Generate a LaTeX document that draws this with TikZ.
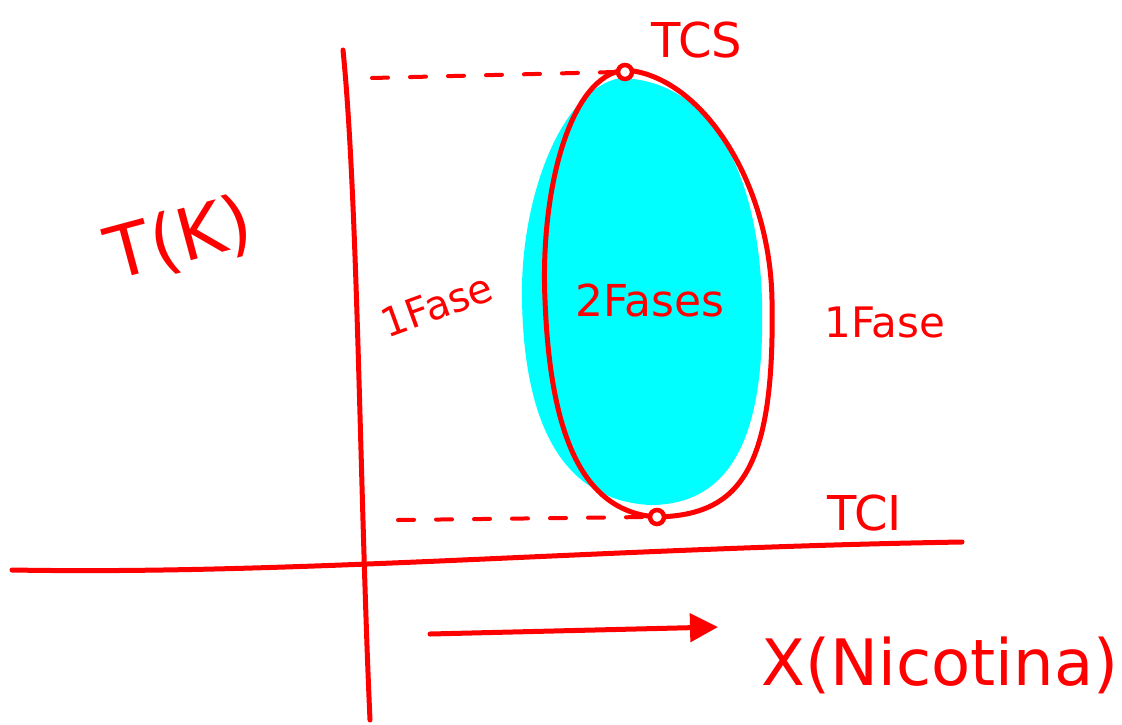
\documentclass[tikz,border=0pt]{standalone}
\usepackage{fontspec}
\setmainfont{DejaVu Sans}
\usetikzlibrary{arrows.meta}
\definecolor{pen}{RGB}{255,0,0}
\definecolor{fillc}{RGB}{0,255,255}
\tikzset{
  stroke/.style={draw=pen, line width=5pt, line cap=round, line join=round},
  dashedline/.style={draw=pen, line width=4pt, line cap=round, dash pattern=on 16pt off 22pt},
  lbl/.style={text=pen, inner sep=0pt},
  marker/.style={circle, draw=pen, line width=4.5pt, minimum size=14pt, inner sep=0pt, fill=white},
}
\begin{document}
\begin{tikzpicture}[x=1pt,y=-1pt]
\useasboundingbox (0,0) rectangle (1122,724);
% fill of the two-phase region (slightly offset)
\fill[fillc] (620,78) .. controls (560,90) and (520,200) .. (522,300)
  .. controls (524,420) and (560,500) .. (650,505)
  .. controls (740,505) and (765,420) .. (762,300)
  .. controls (758,170) and (710,80) .. (620,78) -- cycle;
% outline
\draw[stroke] (625,70) .. controls (570,75) and (540,190) .. (545,300)
  .. controls (550,430) and (580,512) .. (657,517)
  .. controls (740,515) and (775,470) .. (772,300)
  .. controls (770,180) and (700,75) .. (625,70);
% axes
\coordinate (ytop) at (343,50);
\coordinate (ybot) at (370,720);
\draw[stroke] (ytop) .. controls (358,200) and (360,500) .. (ybot);
\coordinate (xleft) at (12,570);
\coordinate (xright) at (962,542);
\draw[stroke] (xleft) .. controls (300,575) and (600,548) .. (xright);
% markers
\node[marker] (tcs) at (625,72) {};
\node[marker] (tci) at (657,517) {};
% dashed lines
\coordinate (dt) at (372,78);
\coordinate (db) at (398,520);
\draw[dashedline] (dt) -- (tcs.west);
\draw[dashedline] (db) -- (tci.west);
% labels
\node[lbl, font=\fontsize{48}{48}\selectfont] (TCS) at (697,40) {TCS};
\node[lbl, font=\fontsize{48}{48}\selectfont] (TCI) at (865,513) {TCI};
\node[lbl, font=\fontsize{72}{72}\selectfont, rotate=15] (TK) at (180,240) {T(K)};
\node[lbl, font=\fontsize{40}{40}\selectfont, rotate=20] (f1) at (437,305) {1Fase};
\node[lbl, font=\fontsize{44}{44}\selectfont] (f2) at (650,300) {2Fases};
\node[lbl, font=\fontsize{42}{42}\selectfont] (f3) at (885,322) {1Fase};
\node[lbl, font=\fontsize{64}{64}\selectfont] (xn) at (940,665) {X(Nicotina)};
% arrow
\coordinate (as) at (430,634);
\coordinate (ae) at (718,627);
\draw[stroke, -{Triangle[length=28pt,width=28pt]}] (as) -- (ae);
\end{tikzpicture}
\end{document}
